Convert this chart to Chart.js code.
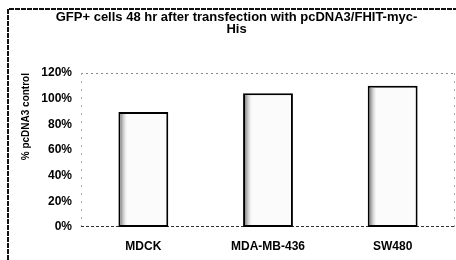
<!DOCTYPE html>
<html><head><meta charset="utf-8">
<script src="https://cdn.jsdelivr.net/npm/chart.js@4.4.1/dist/chart.umd.min.js"></script>
<style>html,body{margin:0;padding:0;background:#fff}canvas{display:block}</style>
</head><body>
<canvas id="c" width="456" height="260"></canvas>
<script>
const categories = ['MDCK', 'MDA-MB-436', 'SW480'];
const gfpPercentOfControl = [89.6, 104.3, 110];
const yTickValues = [0, 20, 40, 60, 80, 100, 120];
const titleLines = ['GFP+ cells 48 hr after transfection with pcDNA3/FHIT-myc-', 'His'];
const yAxisTitle = '% pcDNA3 control';

const FONT = '"Liberation Sans", Arial, sans-serif';

const decorPlugin = {
  id: 'decor',
  beforeDraw(chart) {
    const ctx = chart.ctx;
    ctx.save();
    ctx.fillStyle = '#fff';
    ctx.fillRect(0, 0, chart.width, chart.height);
    ctx.strokeStyle = '#111';
    ctx.lineWidth = 2;
    ctx.setLineDash([5, 1]);
    ctx.beginPath();
    ctx.moveTo(8, chart.height);
    ctx.lineTo(8, 9);
    ctx.lineTo(chart.width, 9);
    ctx.stroke();
    ctx.restore();
  },
  beforeDatasetsDraw(chart) {
    const a = chart.chartArea, ctx = chart.ctx;
    ctx.save();
    ctx.lineWidth = 1;
    ctx.strokeStyle = '#888';
    ctx.setLineDash([2, 3]);
    ctx.beginPath();
    ctx.moveTo(a.left, a.top + 0.5); ctx.lineTo(a.right, a.top + 0.5);
    ctx.stroke();
    ctx.strokeStyle = '#aaa';
    ctx.setLineDash([2, 6]);
    ctx.beginPath();
    ctx.moveTo(a.left + 0.5, a.top); ctx.lineTo(a.left + 0.5, a.bottom);
    ctx.moveTo(a.right - 0.5, a.top); ctx.lineTo(a.right - 0.5, a.bottom);
    ctx.stroke();
    ctx.strokeStyle = '#333';
    ctx.setLineDash([3, 2]);
    ctx.beginPath();
    ctx.moveTo(a.left, a.bottom - 0.5); ctx.lineTo(a.right, a.bottom - 0.5);
    ctx.stroke();
    ctx.restore();
  },
  afterDatasetsDraw(chart) {
    const ctx = chart.ctx;
    const meta = chart.getDatasetMeta(0);
    ctx.save();
    meta.data.forEach(el => {
      const p = el.getProps(['x', 'y', 'width', 'base'], true);
      const left = p.x - p.width / 2 + 2;
      const g = ctx.createLinearGradient(left, 0, left + 7, 0);
      g.addColorStop(0, 'rgba(110,110,110,0.85)');
      g.addColorStop(1, 'rgba(210,210,210,0)');
      ctx.fillStyle = g;
      ctx.fillRect(left, p.y + 2, 7, p.base - p.y - 4);
    });
    ctx.restore();
  }
};

new Chart(document.getElementById('c'), {
  type: 'bar',
  data: {
    labels: categories,
    datasets: [{
      data: gfpPercentOfControl,
      backgroundColor: '#fbfbfb',
      borderColor: '#000',
      borderWidth: 2,
      borderSkipped: false,
      barPercentage: 0.4,
      categoryPercentage: 1
    }]
  },
  options: {
    responsive: false,
    animation: false,
    devicePixelRatio: 1,
    layout: { padding: { left: 18, right: 1, top: 0, bottom: 6 } },
    plugins: {
      legend: { display: false },
      tooltip: { enabled: false },
      title: {
        display: true,
        text: titleLines,
        color: '#000',
        font: { family: FONT, size: 13, weight: 'bold', lineHeight: 0.97 },
        padding: { top: 11, bottom: 36.8 }
      }
    },
    scales: {
      x: {
        grid: { display: false, drawTicks: false },
        border: { display: false },
        ticks: { color: '#000', padding: 12, maxRotation: 0, font: { family: FONT, size: 12, weight: 'bold' } },
        afterFit(s) { s.height = 27; }
      },
      y: {
        min: 0, max: 120,
        grid: { display: false, drawTicks: false },
        border: { display: false },
        afterBuildTicks(s) { s.ticks = yTickValues.map(v => ({ value: v })); },
        ticks: {
          color: '#000', padding: 9,
          font: { family: FONT, size: 12, weight: 'bold' },
          callback: v => v + '%'
        },
        title: {
          display: true,
          text: yAxisTitle,
          align: 'end',
          color: '#000',
          font: { family: FONT, size: 10, weight: 'bold', lineHeight: 1.2 },
          padding: { top: 2, bottom: 0 }
        },
        afterFit(s) { s.width = 63; }
      }
    }
  },
  plugins: [decorPlugin]
});
</script>
</body></html>
